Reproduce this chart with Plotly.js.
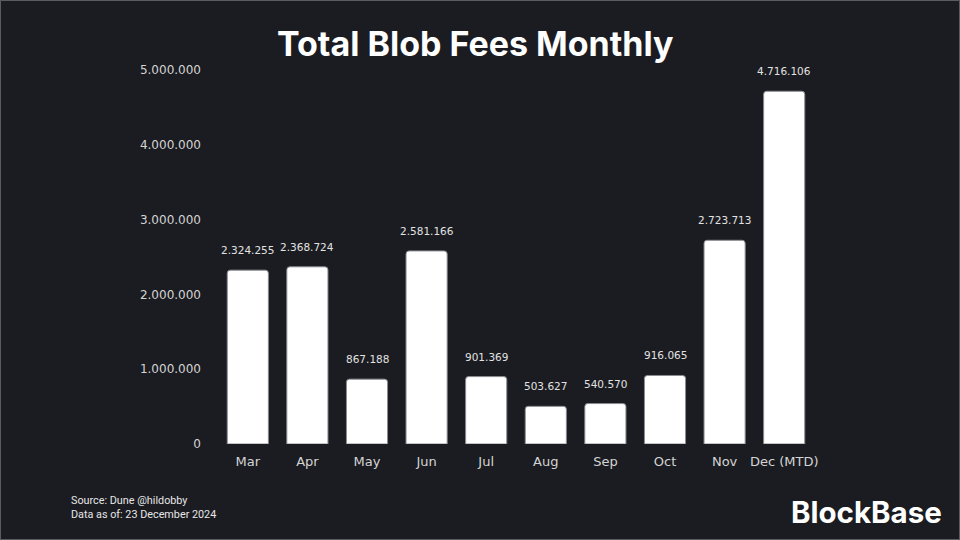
<!DOCTYPE html>
<html><head><meta charset="utf-8">
<script src="https://cdn.plot.ly/plotly-3.0.1.min.js"></script>
<style>
html,body{margin:0;padding:0;background:#1b1c21;}
#wrap{position:relative;width:960px;height:540px;}
#chart{width:960px;height:540px;}
#frame{position:absolute;left:0;top:0;width:960px;height:540px;box-sizing:border-box;border:1px solid #5a5b60;pointer-events:none;}
</style></head>
<body><div id="wrap"><div id="chart"></div><div id="frame"></div></div>
<script>
const months = ["Mar","Apr","May","Jun","Jul","Aug","Sep","Oct","Nov","Dec (MTD)"];
const fees = [2324255, 2368724, 867188, 2581166, 901369, 503627, 540570, 916065, 2723713, 4716106];
const yTicks = [0, 1000000, 2000000, 3000000, 4000000, 5000000];
const titleText = "Total Blob Fees Monthly";
const sourceText = "Source: Dune @hildobby<br>Data as of: 23 December 2024";
const brandText = "BlockBase";

const fmt = v => String(v).replace(/\B(?=(\d{3})+(?!\d))/g, ".");

const trace = {
  type: "bar", x: months, y: fees,
  marker: {color: "#ffffff", line: {color: "#8a8b90", width: 1}, cornerradius: 3},
  hoverinfo: "skip"
};
const valueLabels = months.map((m, i) => ({
  x: m, y: fees[i], xref: "x", yref: "y", text: fmt(fees[i]),
  showarrow: false, yanchor: "bottom", yshift: 12,
  font: {family: "DejaVu Sans", size: 10.5, color: "#e2e2e2"}
}));
const layout = {
  width: 960, height: 540,
  paper_bgcolor: "#1b1c21", plot_bgcolor: "#1b1c21",
  separators: ",.",
  margin: {l: 218, r: 146, t: 70, b: 96},
  bargap: 0.31,
  showlegend: false,
  title: {text: "<b>" + titleText + "</b>", x: 0.495, xanchor: "center", y: 1 - 44/540, yanchor: "middle",
          font: {family: "Inter", size: 34, color: "#ffffff"}},
  xaxis: {showgrid: false, zeroline: false, showline: false, ticks: "",
          tickfont: {family: "DejaVu Sans", size: 13, color: "#d4d4d4"}, ticklabelstandoff: 8},
  yaxis: {range: [0, 5000000], tickvals: yTicks, tickformat: ",d", showgrid: false, zeroline: false,
          showline: false, ticks: "", ticklabelstandoff: 16,
          tickfont: {family: "DejaVu Sans", size: 12, color: "#d4d4d4"}},
  annotations: valueLabels.concat([
    {text: sourceText, xref: "paper", yref: "paper", x: (69-218)/596, y: -(492-444)/374,
     xanchor: "left", yanchor: "top", align: "left", showarrow: false,
     font: {family: "Roboto", size: 10.8, color: "#e6e6e6"}},
    {text: "<b>" + brandText + "</b>", xref: "paper", yref: "paper", x: (944-218)/596, y: -(512-444)/374,
     xanchor: "right", yanchor: "middle", showarrow: false,
     font: {family: "Inter", size: 29.5, color: "#ffffff"}}
  ])
};
Plotly.newPlot("chart", [trace], layout, {displayModeBar: false, staticPlot: true});
</script></body></html>
